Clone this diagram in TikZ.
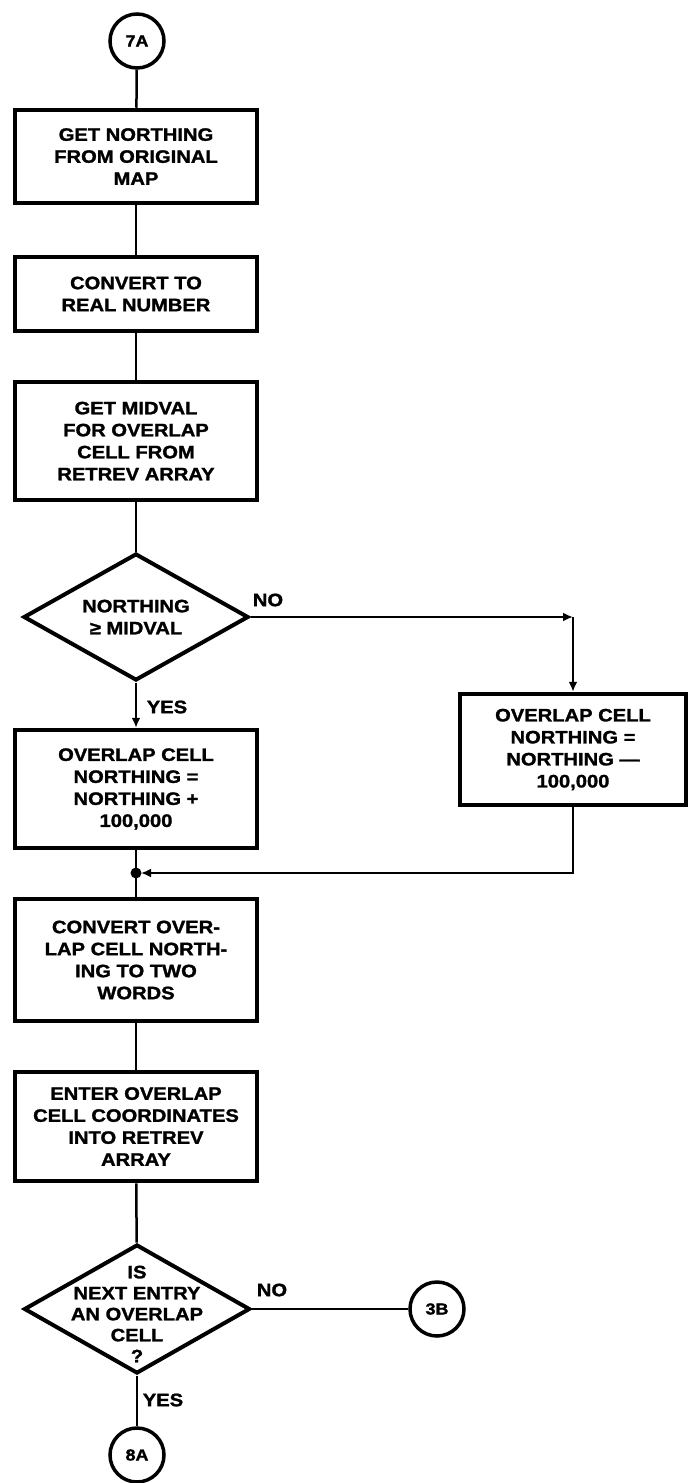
\documentclass[tikz,border=0pt]{standalone}
\usepackage{fontspec}
\setmainfont{Liberation Sans}[FakeStretch=1.12, BoldFeatures={FakeBold=1.5}]
\usetikzlibrary{shapes.geometric, arrows.meta}

\begin{document}
\begin{tikzpicture}[x=1pt, y=-1pt,
    every node/.style={font=\fontsize{18}{22}\selectfont\bfseries, align=center},
    box/.style={draw, line width=4.5pt, minimum width=242pt, inner sep=0pt},
    dia/.style={draw, diamond, line width=4pt, minimum width=225pt, minimum height=127pt, aspect=1.75, inner sep=0pt},
    conn/.style={draw, circle, line width=3.5pt, minimum size=54pt, inner sep=0pt, font=\fontsize{16}{18}\selectfont\bfseries},
    flow/.style={line width=2.5pt},
    tip/.style={-{Latex[length=10pt,width=9pt]}}]
    \useasboundingbox (0,0) rectangle (690,1483);
    \clip (0,0) rectangle (690,1483);
    % main column
    \node[conn] (p7A) at (137,41) {7A};
    \node[box, minimum height=93pt] (getnorth) at (136,156.5) {GET NORTHING\\FROM ORIGINAL\\MAP};
    \node[box, minimum height=74pt] (toreal) at (136,294) {CONVERT TO\\REAL NUMBER};
    \node[box, minimum height=118pt] (midval) at (136,441) {GET MIDVAL\\FOR OVERLAP\\CELL FROM\\RETREV ARRAY};
    \node[dia] (ismid) at (136,617) {NORTHING\\≥ MIDVAL};
    \node[box, minimum height=118pt] (addn) at (136,789) {OVERLAP CELL\\NORTHING =\\NORTHING +\\100,000};
    \node[box, minimum width=226pt, minimum height=111pt] (subn) at (573,749.5) {OVERLAP CELL\\NORTHING =\\NORTHING —\\100,000};
    \coordinate (merge) at (136,873);
    \node[box, minimum height=122pt] (twowords) at (136,960) {CONVERT OVER-\\LAP CELL NORTH-\\ING TO TWO\\WORDS};
    \node[box, minimum height=109pt] (enter) at (136,1126.5) {ENTER OVERLAP\\CELL COORDINATES\\INTO RETREV\\ARRAY};
    \node[dia, minimum width=226pt, minimum height=129pt] (isnext) at (137,1309) {};
    \node[font=\fontsize{18}{21}\selectfont\bfseries] (isnexttxt) at (137,1314) {IS\\NEXT ENTRY\\AN OVERLAP\\CELL\\?};
    \node[conn] (p3B) at (437,1309) {3B};
    \node[conn] (p8A) at (137,1455) {8A};
    % branch labels
    \node (no1) at (268,600) {NO};
    \node (yes1) at (167,707) {YES};
    \node (no2) at (272,1290) {NO};
    \node (yes2) at (163,1400) {YES};
    % connectors
    \draw[flow] (p7A) -- (getnorth);
    \draw[flow] (getnorth) -- (toreal);
    \draw[flow] (toreal) -- (midval);
    \draw[flow] (midval) -- (ismid);
    \draw[flow, tip] (ismid) -- (addn);
    \coordinate (nobend) at (subn.north |- ismid.east);
    \draw[flow, tip] (ismid.east) -- (nobend);
    \draw[flow, tip] (nobend) -- (subn);
    \draw[flow, tip, shorten >=5pt] (subn) |- (merge);
    \draw[flow] (addn) -- (twowords);
    \fill (merge) circle (5.5pt);
    \draw[flow] (twowords) -- (enter);
    \draw[flow] (enter) -- (isnext);
    \draw[flow] (isnext.east) -- (p3B.west);
    \draw[flow] (isnext) -- (p8A);
\end{tikzpicture}
\end{document}
